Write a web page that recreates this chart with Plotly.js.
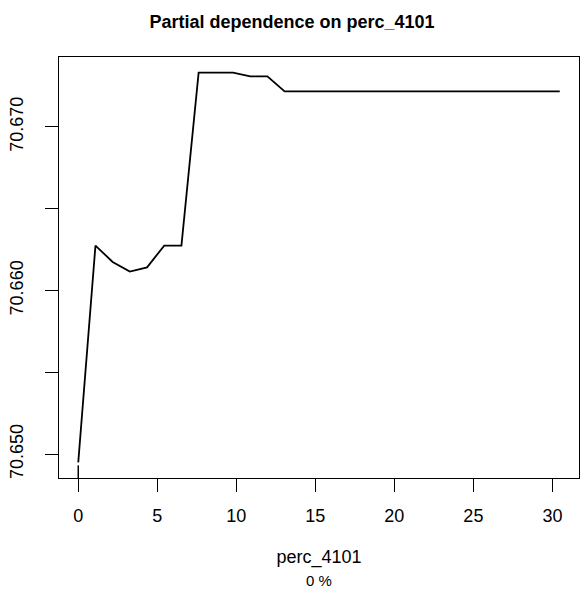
<!DOCTYPE html>
<html>
<head>
<meta charset="utf-8">
<script src="https://cdn.plot.ly/plotly-3.0.1.min.js"></script>
<style>html,body{margin:0;padding:0;background:#fff;}#chart{width:584px;height:595px;}</style>
</head>
<body>
<div id="chart"></div>
<script>
// Data
const xValues = [0, 1.088, 2.176, 3.264, 4.352, 5.44, 6.528, 7.616, 8.704, 9.792, 10.88, 11.968, 13.056, 14.144, 15.232, 16.32, 17.408, 18.496, 19.584, 20.672, 21.76, 22.848, 23.936, 25.024, 26.112, 27.2, 28.288, 29.376, 30.464];
const yValues = [70.6495, 70.66275, 70.66175, 70.66116, 70.66142, 70.66275, 70.66275, 70.67332, 70.67332, 70.67332, 70.67309, 70.67309, 70.67217, 70.67217, 70.67217, 70.67217, 70.67217, 70.67217, 70.67217, 70.67217, 70.67217, 70.67217, 70.67217, 70.67217, 70.67217, 70.67217, 70.67217, 70.67217, 70.67217];
const rugValues = [0];
const xTickVals = [0, 5, 10, 15, 20, 25, 30];
const yTickVals = [70.650, 70.655, 70.660, 70.665, 70.670];
const yTickText = ["70.650", "", "70.660", "", "70.670"];
const titleText = "Partial dependence on perc_4101";
const xLabel = "perc_4101";
const subLabel = "0 %";

function extRange(arr) {
  const mn = Math.min(...arr), mx = Math.max(...arr);
  const d = (mx - mn) * 0.04;
  return [mn - d, mx + d];
}

const font = "Liberation Sans, Arial, Helvetica, sans-serif";

const trace = {
  x: xValues, y: yValues, type: 'scatter', mode: 'lines',
  line: {color: '#000', width: 1.8}, hoverinfo: 'skip', showlegend: false
};

const shapes = rugValues.map(v => ({
  type: 'line', xref: 'x', yref: 'paper', x0: v, x1: v, y0: 0, y1: 0.03,
  line: {color: '#000', width: 1.5}
}));

const layout = {
  width: 584, height: 595,
  margin: {l: 59, r: 5, t: 57, b: 117, pad: 0},
  paper_bgcolor: '#fff', plot_bgcolor: '#fff',
  font: {family: font, color: '#000', size: 18},
  title: {text: '<b>' + titleText + '</b>', font: {family: font, size: 18, color: '#000'},
          x: 0.5, xref: 'container', xanchor: 'center', y: 1 - 22/595, yref: 'container', yanchor: 'middle'},
  xaxis: {
    range: extRange(xValues), tickvals: xTickVals, ticktext: xTickVals.map(String),
    ticks: 'outside', ticklen: 13, tickwidth: 1, tickcolor: '#000',
    showline: true, mirror: true, linecolor: '#000', linewidth: 1,
    showgrid: false, zeroline: false, tickfont: {size: 18, family: font, color: '#000'},
    ticklabelstandoff: 8,
    title: {text: xLabel, font: {size: 18, family: font, color: '#000'}, standoff: 25}
  },
  yaxis: {
    range: extRange(yValues), tickvals: yTickVals, ticktext: yTickText,
    ticks: 'outside', ticklen: 13, tickwidth: 1, tickcolor: '#000', tickangle: -90,
    showline: true, mirror: true, linecolor: '#000', linewidth: 1,
    showgrid: false, zeroline: false, tickfont: {size: 18, family: font, color: '#000'},
    ticklabelstandoff: 15
  },
  shapes: shapes,
  annotations: [{
    text: subLabel, xref: 'paper', yref: 'paper', x: 0.5, y: -(580 - 478) / (478 - 57),
    xanchor: 'center', yanchor: 'middle', showarrow: false, font: {size: 15, family: font, color: '#000'}
  }]
};

Plotly.newPlot('chart', [trace], layout, {displayModeBar: false, staticPlot: true});
</script>
</body>
</html>
